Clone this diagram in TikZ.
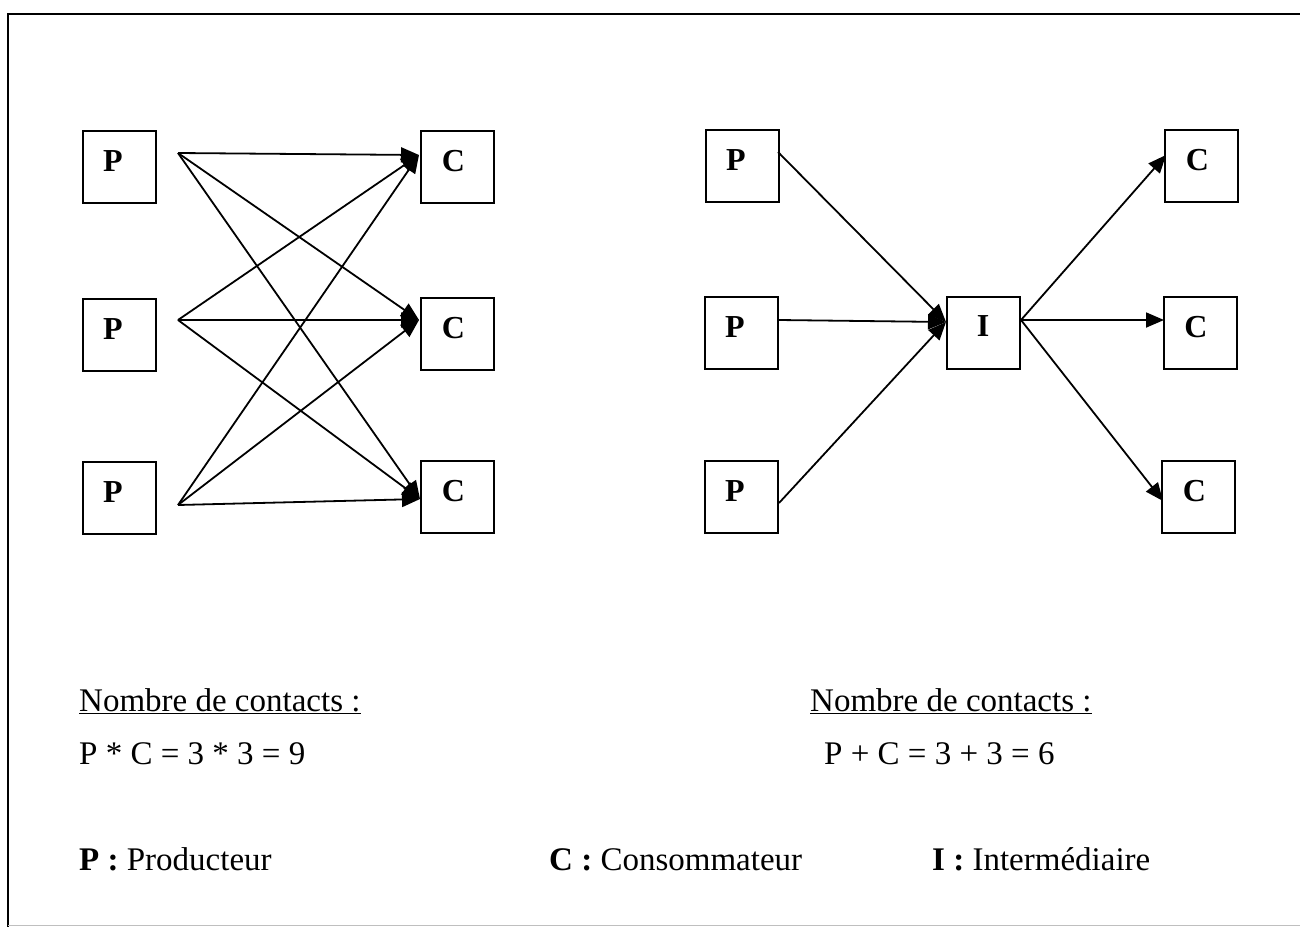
\documentclass[tikz,border=0pt]{standalone}
\usepackage{fontspec}
\setmainfont{Liberation Serif}
\usetikzlibrary{arrows.meta}
\newcommand{\boxlab}[3]{\raisebox{#2}{#1}\hspace*{#3}}
\tikzset{
  box/.style={draw, line width=2pt, minimum width=73pt, minimum height=72pt, inner sep=0pt,
    font=\fontsize{32}{34}\selectfont\bfseries},
  conn/.style={line width=1.8pt, -{Triangle[length=18pt,width=15pt]}},
  txt/.style={font=\fontsize{33}{36}\selectfont, anchor=base west, inner sep=0pt},
  frame/.style={line width=2.4pt},
}
\begin{document}
\begin{tikzpicture}[x=1pt,y=-1pt]
\useasboundingbox (0,0) rectangle (1300,927);
% frame
\draw[frame] (1300,14) -- (8,14) -- (8,927);
\draw[line width=1pt, black!25] (8,925) -- (1300,925);

% ---- left diagram ----
\node[box] (lp1) at (119,167)   {\boxlab{P}{11pt}{12pt}};
\node[box] (lp2) at (119,334.5) {\boxlab{P}{11pt}{12pt}};
\node[box] (lp3) at (119,497.5) {\boxlab{P}{11pt}{12pt}};
\node[box] (lc1) at (457.5,166.5) {\boxlab{C}{12pt}{8pt}};
\node[box] (lc2) at (457.5,334)   {\boxlab{C}{12pt}{8pt}};
\node[box] (lc3) at (457.5,497)   {\boxlab{C}{12pt}{8pt}};

\coordinate (ls1) at (178,153);
\coordinate (ls2) at (178,320);
\coordinate (ls3) at (178,505);
\coordinate (le1) at (419,155);
\coordinate (le2) at (419,320);
\coordinate (le3) at (420,499);

\foreach \s in {1,2,3}{
  \foreach \e in {1,2,3}{
    \draw[conn] (ls\s) -- (le\e);
  }
}

% ---- right diagram ----
\node[box] (rp1) at (742,166)   {\boxlab{P}{11pt}{12pt}};
\node[box] (rp2) at (741,333)   {\boxlab{P}{11pt}{12pt}};
\node[box] (rp3) at (741,496.5) {\boxlab{P}{11pt}{12pt}};
\node[box] (ri)  at (983,332.5) {\boxlab{I}{12pt}{0pt}};
\node[box] (rc1) at (1201.5,166)   {\boxlab{C}{12pt}{8pt}};
\node[box] (rc2) at (1200,332.5)   {\boxlab{C}{12pt}{8pt}};
\node[box] (rc3) at (1198.5,496.5) {\boxlab{C}{12pt}{8pt}};

\coordinate (rs1) at (778,152);
\coordinate (rs2) at (779,320);
\coordinate (rs3) at (779,503);
\coordinate (rin) at (946,322);
\coordinate (rout) at (1021,320);
\coordinate (re1) at (1166,155);
\coordinate (re2) at (1164,320);
\coordinate (re3) at (1163,501);

\draw[conn] (rs1) -- (rin);
\draw[conn] (rs2) -- (rin);
\draw[conn] (rs3) -- (rin);
\draw[conn] (rout) -- (re1);
\draw[conn] (rout) -- (re2);
\draw[conn] (rout) -- (re3);

% ---- texts ----
\node[txt] (t1) at (79,711) {\underline{Nombre de contacts :}};
\node[txt] (t2) at (79,764) {P * C = 3 * 3 = 9};
\node[txt] (t3) at (810,711) {\underline{Nombre de contacts :}};
\node[txt] (t4) at (824,764) {P + C = 3 + 3 = 6};
\node[txt] (l1) at (79,870) {\textbf{P :} Producteur};
\node[txt] (l2) at (549,870) {\textbf{C :} Consommateur};
\node[txt] (l3) at (932,870) {\textbf{I :} Intermédiaire};
\end{tikzpicture}
\end{document}
